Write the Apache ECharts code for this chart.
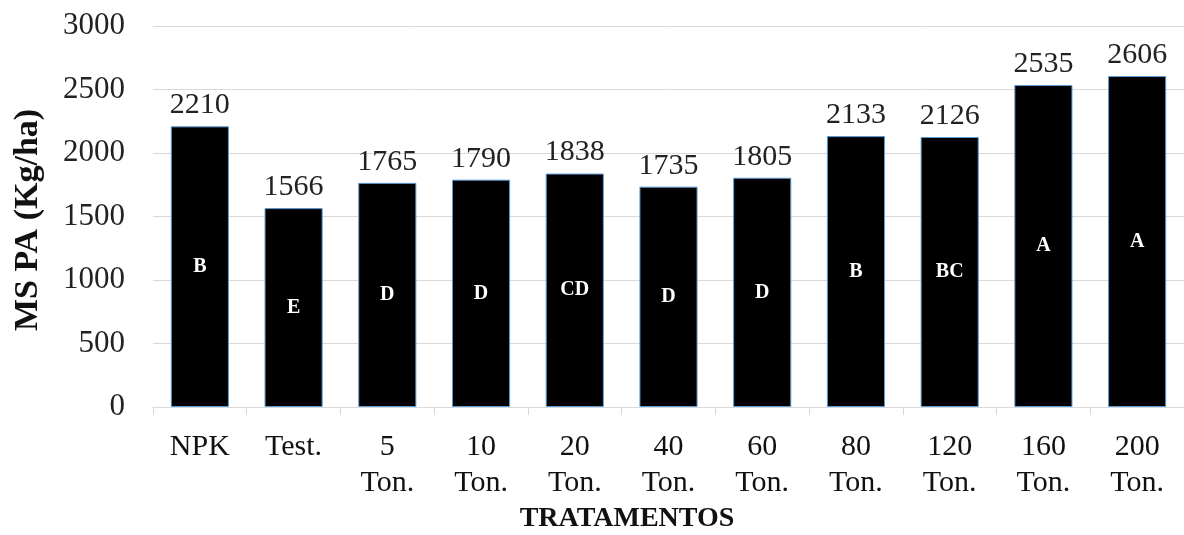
<!DOCTYPE html>
<html>
<head>
<meta charset="utf-8">
<script src="https://cdn.jsdelivr.net/npm/echarts@6/dist/echarts.min.js"></script>
<style>html,body{margin:0;padding:0;background:#fff}#c{width:1184px;height:535px}</style>
</head>
<body>
<div id="c"></div>
<script>
const categories = ['NPK', 'Test.', '5\nTon.', '10\nTon.', '20\nTon.', '40\nTon.', '60\nTon.', '80\nTon.', '120\nTon.', '160\nTon.', '200\nTon.'];
const values = [2210, 1566, 1765, 1790, 1838, 1735, 1805, 2133, 2126, 2535, 2606];
const letters = ['B', 'E', 'D', 'D', 'CD', 'D', 'D', 'B', 'BC', 'A', 'A'];
const yTicks = { min: 0, max: 3000, interval: 500 };
const yName = 'MS PA (Kg/ha)';
const xName = 'TRATAMENTOS';

const FONT = '"Liberation Serif", "Times New Roman", serif';
const chart = echarts.init(document.getElementById('c'), null, { renderer: 'canvas' });
chart.setOption({
  animation: false,
  backgroundColor: '#fff',
  grid: { left: 153, right: -11, top: 26, bottom: 128, containLabel: false },
  xAxis: {
    type: 'category',
    data: categories,
    axisLine: { lineStyle: { color: '#d9d9d9', width: 1 } },
    axisTick: { show: true, alignWithLabel: false, length: 8, lineStyle: { color: '#d9d9d9' } },
    axisLabel: { fontFamily: FONT, fontSize: 30, color: '#111', margin: 22, lineHeight: 36, interval: 0 }
  },
  yAxis: {
    type: 'value',
    min: yTicks.min, max: yTicks.max, interval: yTicks.interval,
    axisLine: { show: false },
    axisTick: { show: false },
    splitLine: { lineStyle: { color: '#d9d9d9', width: 1 } },
    axisLabel: { fontFamily: FONT, fontSize: 31, color: '#222', margin: 28, formatter: v => String(v) }
  },
  series: [
    {
      type: 'bar',
      data: values,
      barCategoryGap: '38%',
      itemStyle: { color: '#000', borderColor: '#5b9bd5', borderWidth: 1 },
      label: { show: true, position: 'top', distance: 6, fontFamily: FONT, fontSize: 30, color: '#222' }
    },
    {
      type: 'bar',
      data: values,
      barGap: '-100%',
      barCategoryGap: '38%',
      itemStyle: { color: 'rgba(0,0,0,0)' },
      silent: true,
      label: {
        show: true, position: 'inside', fontFamily: FONT, fontSize: 20, fontWeight: 'bold', color: '#fff',
        formatter: p => letters[p.dataIndex]
      }
    }
  ],
  graphic: [
    {
      type: 'text', x: 28, y: 220, rotation: Math.PI / 2,
      style: { text: yName, font: 'bold 34px ' + FONT, fill: '#111', textAlign: 'center', textVerticalAlign: 'middle' }
    },
    {
      type: 'text', x: 627, y: 519,
      style: { text: xName, font: 'bold 28px ' + FONT, fill: '#111', textAlign: 'center', textVerticalAlign: 'middle' }
    }
  ]
});
</script>
</body>
</html>
